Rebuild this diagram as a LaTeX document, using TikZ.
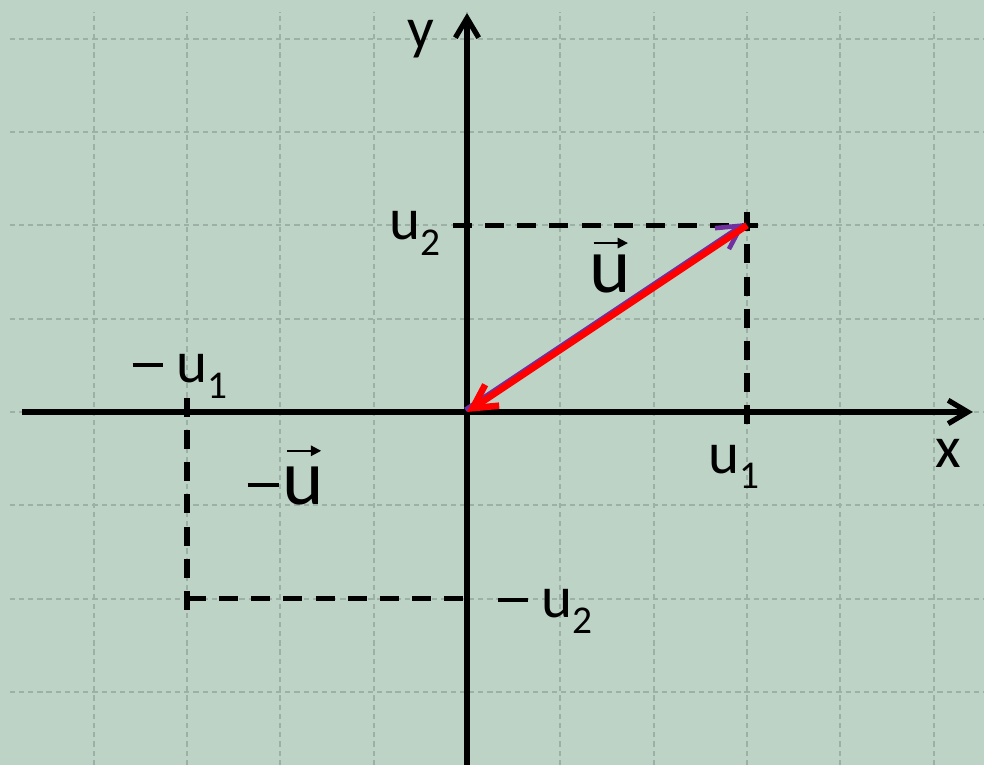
\documentclass[tikz,border=0pt]{standalone}
\usepackage{fontspec}
\setmainfont{Carlito}
\usetikzlibrary{arrows.meta}
\definecolor{bgcol}{HTML}{BCD3C6}
\definecolor{gridcol}{HTML}{9DB0A5}
\definecolor{uvcol}{HTML}{7030A0}
\newcommand\lowidx[1]{\raisebox{-4.6pt}{\fontsize{12}{12}\selectfont #1}}
\newcommand\minusbar{\rule[1.72mm]{3.3mm}{0.43mm}}

\begin{document}
\begin{tikzpicture}[
  lbl/.style={inner sep=0pt, anchor=base west, font=\fontsize{18}{20}\selectfont},
  biglbl/.style={inner sep=0pt, anchor=base west, font=\fontsize{24}{26}\selectfont},
  gridline/.style={draw=gridcol, line width=0.6pt, dash pattern=on 1.6pt off 1.2pt},
  axis/.style={draw=black, line width=1.6pt, -{Straight Barb[length=2.1mm,width=2.5mm]}},
  proj/.style={draw=black, line width=1.6pt, dash pattern=on 5.8pt off 4pt},
  uvec/.style={draw=uvcol, line width=1.4pt, -{Straight Barb[length=2.5mm,width=2.7mm]}},
  negvec/.style={draw=red, line width=2pt, -{Straight Barb[length=2.5mm,width=2.7mm]}},
  vecbar/.style={draw=black, line width=0.6pt, -{Triangle[length=1.1mm,width=1.1mm]}}
]
\fill[bgcol] (-5.004,-3.782) rectangle (5.539,4.414);
\useasboundingbox (-5.004,-3.782) rectangle (5.539,4.414);
\foreach \gx in {-4,...,5} \draw[gridline] (\gx,-3.782) -- (\gx,4.29);
\foreach \gy in {-3,...,4} \draw[gridline] (-4.9,\gy) -- (5.539,\gy);
\coordinate (O) at (0,0);
\coordinate (P) at (3,2);
\draw[proj] (-0.15,2) -- (3.12,2);
\draw[proj] (3,2.14) -- (3,-0.19);
\draw[proj] (-3,0.15) -- (-3,-2.26);
\draw[proj] (-3,-2) -- (0.05,-2);
\draw[axis] (-4.768,0) -- (5.42,0);
\draw[axis] (0,-3.782) -- (0,4.275);
\draw[uvec, transform canvas={shift={(-0.5pt,0.7pt)}}] (O) -- (P);
\draw[negvec] (P) -- (O);
\node[lbl] (ylab) at (-0.65,3.89) {y};
\node[lbl] (xlab) at (5.01,-0.59) {x};
\node[lbl] (u2top) at (-0.84,1.843) {u\lowidx{2}};
\node[lbl] (u1right) at (2.575,-0.654) {u\lowidx{1}};
\node[lbl] (u1left) at (-3.59,0.311) {\minusbar{} u\lowidx{1}};
\node[lbl] (u2bottom) at (0.32,-2.207) {\minusbar{} u\lowidx{2}};
\node[biglbl] (vu) at (1.307,1.275) {u};
\node[lbl] (negsign) at (-2.357,-0.975) {\minusbar};
\node[biglbl] (negu) at (-1.98,-0.996) {u};
\draw[vecbar] ([shift={(0.05,0.125)}]vu.north west) -- ([shift={(-0.04,0.125)}]vu.north east);
\draw[vecbar] ([shift={(0.05,0.17)}]negu.north west) -- ([shift={(-0.04,0.17)}]negu.north east);
\end{tikzpicture}
\end{document}
